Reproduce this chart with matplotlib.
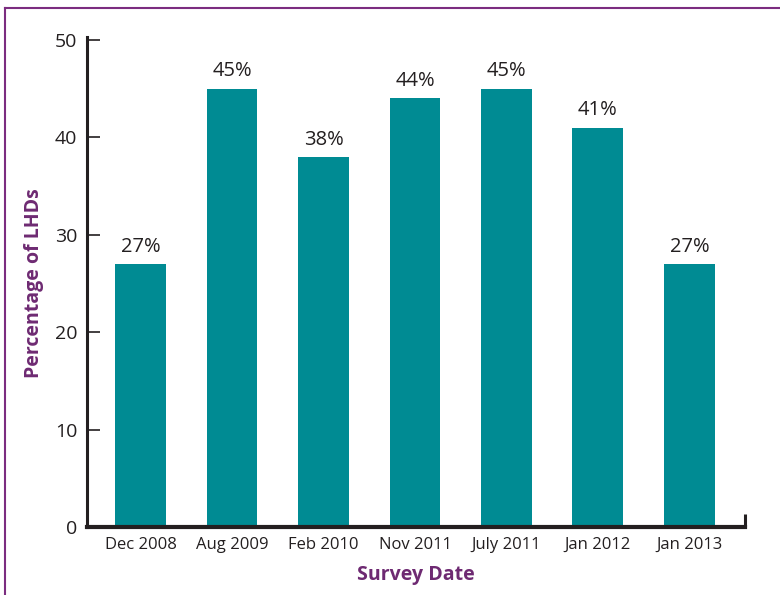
import matplotlib
matplotlib.use("Agg")
import matplotlib.pyplot as plt
from matplotlib.lines import Line2D

# data
survey_dates = ["Dec 2008", "Aug 2009", "Feb 2010", "Nov 2011", "July 2011", "Jan 2012", "Jan 2013"]
percent_lhds = [27, 45, 38, 44, 45, 41, 27]
y_ticks = [0, 10, 20, 30, 40, 50]

bar_color = "#008B93"
purple = "#6E2A72"
ink = "#231F20"

plt.rcParams["font.family"] = ["Open Sans", "DejaVu Sans"]

fig = plt.figure(figsize=(7.8, 5.95), dpi=100)
ax = fig.add_axes([87 / 780, 1 - 527 / 595, (745 - 87) / 780, (527 - 40) / 595])

x = list(range(len(survey_dates)))
bars = ax.bar(x, percent_lhds, width=0.557, color=bar_color, zorder=2)
for b, v in zip(bars, percent_lhds):
    ax.text(b.get_x() + b.get_width() / 2, v + 0.75, f"{v}%", ha="center", va="bottom",
            fontsize=14.5, color=ink)

ax.set_xlim(-0.585, 6.607)
ax.set_ylim(0, 50)
ax.set_yticks(y_ticks)
ax.set_xticks(x)
ax.set_xticklabels(survey_dates, fontsize=12, color=ink)
ax.tick_params(axis="y", direction="in", length=9.5, width=1.2, pad=7, labelsize=14,
               labelcolor=ink, color=ink)
ax.tick_params(axis="x", length=0, pad=7)

for side in ["top", "right"]:
    ax.spines[side].set_visible(False)
ax.spines["left"].set_linewidth(2.2)
ax.spines["bottom"].set_linewidth(3)
ax.spines["left"].set_color(ink)
ax.spines["bottom"].set_color(ink)
ax.spines["left"].set_bounds(0, 50.3)

# little upturn at the right end of the x axis
ax.plot([6.607, 6.607], [0, 1.3], color=ink, lw=2.2, clip_on=False, solid_capstyle="butt")

ax.set_xlabel("Survey Date", fontsize=14, fontweight="bold", color=purple, labelpad=9)
ax.set_ylabel("Percentage of LHDs", fontsize=14, fontweight="bold", color=purple, labelpad=8)

# frame lines on the left and top of the figure
fig.add_artist(Line2D([5 / 780, 5 / 780], [0, 1 - 8 / 595], color="#7B2D80", lw=1.5,
                      transform=fig.transFigure))
fig.add_artist(Line2D([5 / 780, 1], [1 - 8 / 595, 1 - 8 / 595], color="#7B2D80", lw=1.5,
                      transform=fig.transFigure))

fig.savefig("out.png", dpi=100)
plt.close(fig)
